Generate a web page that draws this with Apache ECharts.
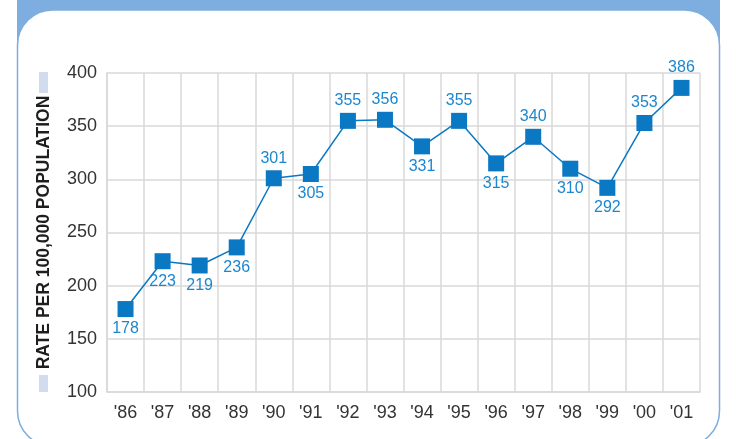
<!DOCTYPE html>
<html>
<head>
<meta charset="utf-8">
<script src="https://cdn.jsdelivr.net/npm/echarts@6/dist/echarts.min.js"></script>
<style>
  html, body { margin: 0; padding: 0; background: #fff; }
  #rate-chart { width: 736px; height: 439px; }
</style>
</head>
<body>
<div id="rate-chart"></div>
<script>
  // years on the x axis
  var years = ["'86", "'87", "'88", "'89", "'90", "'91", "'92", "'93", "'94", "'95", "'96", "'97", "'98", "'99", "'00", "'01"];
  // rate per 100,000 population
  var rates = [178, 223, 219, 236, 301, 305, 355, 356, 331, 355, 315, 340, 310, 292, 353, 386];
  // which side of the marker each value label sits on
  var labelSide = ['bottom', 'bottom', 'bottom', 'bottom', 'top', 'bottom', 'top', 'top', 'bottom', 'top', 'bottom', 'top', 'bottom', 'bottom', 'top', 'top'];

  var gridColor = '#d9d9d9';
  var markColor = '#0a78c2';
  var font = '"Liberation Sans", Arial, sans-serif';

  var chart = echarts.init(document.getElementById('rate-chart'));

  var points = rates.map(function (v, i) {
    return { value: v, label: { position: labelSide[i] } };
  });

  var option = {
    animation: false,
    backgroundColor: '#fff',
    textStyle: { fontFamily: font },
    grid: { left: 107, right: 36, top: 73, bottom: 47 },
    graphic: [
      // blue header band behind the panel corners
      { type: 'rect', z: -10, shape: { x: 17, y: 0, width: 703, height: 60 }, style: { fill: '#7eaddf' } },
      // white rounded panel with thin blue border
      { type: 'rect', z: -9, shape: { x: 17.5, y: 10, width: 702, height: 436, r: 35 }, style: { fill: '#fff', stroke: '#7eaddf', lineWidth: 1.5 } },
      // light blue bars at the ends of the axis title
      { type: 'rect', shape: { x: 39, y: 72, width: 9, height: 21 }, style: { fill: '#d1ddef' } },
      { type: 'rect', shape: { x: 39, y: 375, width: 9, height: 17 }, style: { fill: '#d1ddef' } }
    ],
    xAxis: {
      type: 'category',
      data: years,
      boundaryGap: true,
      axisLine: { lineStyle: { color: gridColor, width: 1.5 } },
      axisTick: { show: false },
      splitLine: { show: true, lineStyle: { color: gridColor, width: 1.5 } },
      axisLabel: { color: '#333', fontSize: 18, margin: 12, interval: 0 }
    },
    yAxis: {
      type: 'value',
      min: 100,
      max: 400,
      interval: 50,
      name: 'RATE PER 100,000 POPULATION',
      nameLocation: 'middle',
      nameGap: 54,
      nameTextStyle: { color: '#1e1e1e', fontSize: 17.5, fontWeight: 'bold' },
      axisLine: { show: true, lineStyle: { color: gridColor, width: 1.5 } },
      axisTick: { show: false },
      splitLine: { lineStyle: { color: gridColor, width: 1.5 } },
      axisLabel: { color: '#333', fontSize: 18, margin: 10 }
    },
    series: [{
      type: 'line',
      data: points,
      symbol: 'rect',
      symbolSize: 16,
      lineStyle: { color: markColor, width: 1.5 },
      itemStyle: { color: markColor },
      label: { show: true, color: '#1b87cf', fontSize: 16, distance: 4 }
    }]
  };
  chart.setOption(option);
</script>
</body>
</html>
